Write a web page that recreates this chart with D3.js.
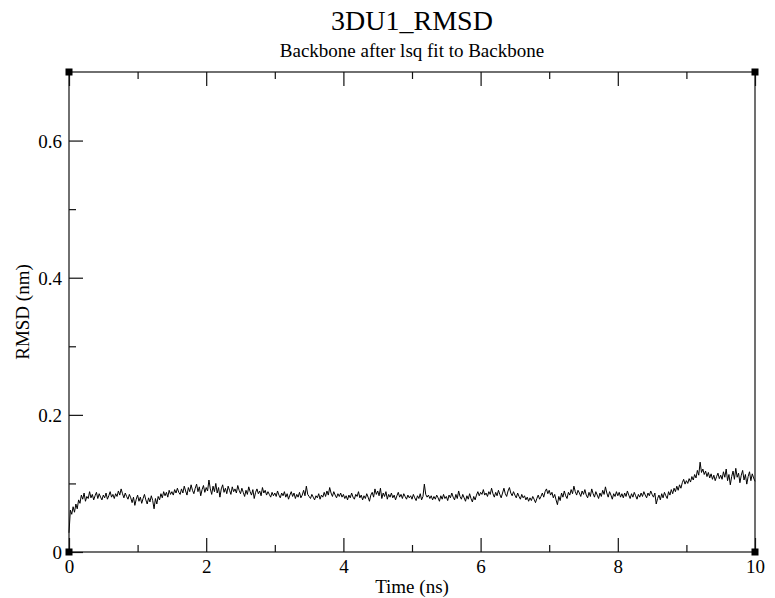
<!DOCTYPE html>
<html>
<head>
<meta charset="utf-8">
<script src="https://cdn.jsdelivr.net/npm/d3@7/dist/d3.min.js"></script>
<style>
  body { margin: 0; background: #fff; }
  text { font-family: "Liberation Serif", "DejaVu Serif", serif; fill: #000; }
</style>
</head>
<body>
<svg id="chart" width="775" height="598"></svg>
<script>
"use strict";

// chart texts
const title = "3DU1_RMSD";
const subtitle = "Backbone after lsq fit to Backbone";
const xLabel = "Time (ns)";
const yLabel = "RMSD (nm)";

// axes
const xDomain = [0, 10];
const yDomain = [0, 0.7];
const xMajorTicks = [0, 2, 4, 6, 8, 10];
const xMinorTicks = [1, 3, 5, 7, 9];
const yMajorTicks = [0, 0.2, 0.4, 0.6];
const yMinorTicks = [0.1, 0.3, 0.5];

// sampling of the trajectory, ns
const timeStep = 0.02;

// RMSD values (nm), one every 0.02 ns
const rmsd = [
  0.028, 0.061, 0.055, 0.066, 0.058, 0.070, 0.063, 0.076, 0.071, 0.083, 0.077, 0.086, 0.074, 0.081, 0.078, 0.088, 0.079, 0.084, 0.076, 0.082, 0.087, 0.078, 0.085, 0.080, 0.076,
  0.083, 0.079, 0.086, 0.077, 0.082, 0.088, 0.080, 0.084, 0.078, 0.085, 0.081, 0.089, 0.083, 0.092, 0.085, 0.079, 0.086, 0.081, 0.077, 0.084, 0.079, 0.072, 0.080, 0.068, 0.077,
  0.083, 0.074, 0.080, 0.071, 0.078, 0.084, 0.076, 0.070, 0.079, 0.073, 0.082, 0.075, 0.063, 0.078, 0.070, 0.081, 0.076, 0.085, 0.079, 0.088, 0.082, 0.087, 0.080, 0.090, 0.084,
  0.088, 0.083, 0.091, 0.086, 0.093, 0.087, 0.084, 0.092, 0.086, 0.096, 0.089, 0.083, 0.094, 0.088, 0.098, 0.090, 0.085, 0.093, 0.099, 0.088, 0.095, 0.082, 0.091, 0.097, 0.087,
  0.094, 0.089, 0.105, 0.092, 0.084, 0.096, 0.088, 0.100, 0.086, 0.094, 0.080, 0.092, 0.098, 0.087, 0.093, 0.085, 0.096, 0.090, 0.084, 0.095, 0.088, 0.092, 0.086, 0.097, 0.090,
  0.085, 0.093, 0.087, 0.081, 0.090, 0.084, 0.095, 0.088, 0.083, 0.091, 0.078, 0.087, 0.092, 0.085, 0.089, 0.082, 0.094, 0.086, 0.090, 0.083, 0.088, 0.084, 0.080, 0.087, 0.082,
  0.086, 0.081, 0.089, 0.083, 0.079, 0.086, 0.082, 0.088, 0.080, 0.085, 0.077, 0.083, 0.088, 0.081, 0.086, 0.078, 0.084, 0.080, 0.087, 0.079, 0.083, 0.090, 0.082, 0.096, 0.084,
  0.081, 0.078, 0.084, 0.080, 0.076, 0.082, 0.079, 0.085, 0.077, 0.083, 0.080, 0.087, 0.081, 0.089, 0.083, 0.094, 0.086, 0.081, 0.088, 0.083, 0.079, 0.085, 0.081, 0.086, 0.080,
  0.084, 0.078, 0.082, 0.076, 0.083, 0.079, 0.086, 0.080, 0.077, 0.084, 0.081, 0.088, 0.079, 0.083, 0.076, 0.082, 0.078, 0.085, 0.080, 0.074, 0.083, 0.087, 0.080, 0.092, 0.084,
  0.089, 0.082, 0.093, 0.078, 0.086, 0.081, 0.088, 0.077, 0.084, 0.080, 0.086, 0.079, 0.083, 0.076, 0.082, 0.087, 0.080, 0.084, 0.078, 0.085, 0.081, 0.077, 0.083, 0.079, 0.082,
  0.077, 0.084, 0.079, 0.075, 0.082, 0.078, 0.085, 0.076, 0.081, 0.099, 0.084, 0.080, 0.083, 0.078, 0.082, 0.076, 0.081, 0.077, 0.083, 0.079, 0.074, 0.082, 0.077, 0.084, 0.078,
  0.081, 0.075, 0.083, 0.079, 0.086, 0.080, 0.076, 0.084, 0.078, 0.089, 0.081, 0.077, 0.084, 0.079, 0.074, 0.082, 0.077, 0.085, 0.078, 0.073, 0.081, 0.076, 0.083, 0.088, 0.082,
  0.087, 0.084, 0.091, 0.083, 0.086, 0.081, 0.088, 0.084, 0.093, 0.085, 0.080, 0.087, 0.082, 0.090, 0.084, 0.079, 0.086, 0.093, 0.085, 0.081, 0.089, 0.094, 0.086, 0.082, 0.088,
  0.083, 0.079, 0.086, 0.081, 0.077, 0.084, 0.079, 0.082, 0.076, 0.080, 0.074, 0.079, 0.075, 0.081, 0.077, 0.072, 0.078, 0.083, 0.077, 0.081, 0.086, 0.080, 0.088, 0.092, 0.085,
  0.090, 0.083, 0.087, 0.079, 0.084, 0.076, 0.069, 0.081, 0.075, 0.086, 0.080, 0.089, 0.082, 0.078, 0.087, 0.083, 0.091, 0.085, 0.096, 0.088, 0.083, 0.090, 0.086, 0.081, 0.089,
  0.084, 0.091, 0.083, 0.079, 0.087, 0.081, 0.092, 0.085, 0.080, 0.088, 0.083, 0.078, 0.086, 0.081, 0.090, 0.084, 0.095, 0.086, 0.080, 0.088, 0.083, 0.077, 0.085, 0.081, 0.088,
  0.082, 0.087, 0.080, 0.085, 0.079, 0.086, 0.081, 0.089, 0.083, 0.078, 0.085, 0.080, 0.087, 0.082, 0.077, 0.084, 0.080, 0.086, 0.081, 0.088, 0.083, 0.079, 0.086, 0.082, 0.089,
  0.084, 0.080, 0.086, 0.070, 0.078, 0.083, 0.076, 0.085, 0.079, 0.087, 0.082, 0.078, 0.088, 0.083, 0.091, 0.085, 0.093, 0.088, 0.096, 0.090, 0.098, 0.093, 0.101, 0.106, 0.099,
  0.104, 0.100, 0.107, 0.102, 0.110, 0.105, 0.113, 0.108, 0.119, 0.112, 0.131, 0.116, 0.121, 0.113, 0.118, 0.110, 0.116, 0.108, 0.114, 0.106, 0.112, 0.104, 0.110, 0.115, 0.107,
  0.112, 0.106, 0.117, 0.109, 0.121, 0.104, 0.113, 0.098, 0.110, 0.118, 0.106, 0.122, 0.109, 0.115, 0.101, 0.112, 0.119, 0.105, 0.113, 0.099, 0.110, 0.117, 0.104, 0.114, 0.108,
  0.103
];

let plotLeft = 69, plotRight = 755, plotTop = 72, plotBottom = 552;
let fontSize = 19;

let svg = d3.select("#chart");

let x = d3.scaleLinear().domain(xDomain).range([plotLeft, plotRight]);
let y = d3.scaleLinear().domain(yDomain).range([plotBottom, plotTop]);

// data line
let line = d3.line()
             .x((d, i) => x(i * timeStep))
             .y((d) => y(d));

svg.append("path")
   .datum(rmsd)
   .attr("fill", "none")
   .attr("stroke", "#000")
   .attr("stroke-width", 1)
   .attr("d", line);

// frame
svg.append("rect")
   .attr("x", plotLeft)
   .attr("y", plotTop)
   .attr("width", plotRight - plotLeft)
   .attr("height", plotBottom - plotTop)
   .attr("fill", "none")
   .attr("stroke", "#111")
   .attr("stroke-width", 1.2);

// axes with inward ticks
function drawAxis(axis, transform, withLabels)
{
    let g = svg.append("g")
               .attr("transform", transform)
               .call(axis);
    g.select(".domain").remove();
    g.selectAll("line").attr("stroke", "#111").attr("stroke-width", 1.2);
    g.selectAll("text")
     .style("font-family", "Liberation Serif, serif")
     .style("font-size", fontSize + "px")
     .attr("fill", "#000");
    if (!withLabels)
        g.selectAll("text").remove();
    return g;
}

let fmt = (d) => String(+d.toFixed(1));

// bottom
drawAxis(d3.axisTop(x).tickValues(xMajorTicks).tickSize(14).tickFormat(""),
         "translate(0," + plotBottom + ")", false);
drawAxis(d3.axisTop(x).tickValues(xMinorTicks).tickSize(7).tickFormat(""),
         "translate(0," + plotBottom + ")", false);
// top
drawAxis(d3.axisBottom(x).tickValues(xMajorTicks).tickSize(14).tickFormat(""),
         "translate(0," + plotTop + ")", false);
drawAxis(d3.axisBottom(x).tickValues(xMinorTicks).tickSize(7).tickFormat(""),
         "translate(0," + plotTop + ")", false);
// left
drawAxis(d3.axisRight(y).tickValues(yMajorTicks).tickSize(14).tickFormat(""),
         "translate(" + plotLeft + ",0)", false);
drawAxis(d3.axisRight(y).tickValues(yMinorTicks).tickSize(7).tickFormat(""),
         "translate(" + plotLeft + ",0)", false);

// tick labels
let xl = drawAxis(d3.axisBottom(x).tickValues(xMajorTicks).tickSize(0).tickPadding(5).tickFormat(fmt),
                  "translate(0," + plotBottom + ")", true);
xl.selectAll("text").attr("dy", "0.82em");

let yl = drawAxis(d3.axisLeft(y).tickValues(yMajorTicks).tickSize(0).tickPadding(7).tickFormat(fmt),
                  "translate(" + plotLeft + ",0)", true);
yl.selectAll("text").attr("dy", "0.34em");

// corner markers
let corners = [[xDomain[0], yDomain[0]], [xDomain[1], yDomain[0]], [xDomain[0], yDomain[1]], [xDomain[1], yDomain[1]]];
svg.selectAll(".corner")
   .data(corners)
   .enter()
   .append("rect")
   .attr("class", "corner")
   .attr("x", (d) => x(d[0]) - 3.5)
   .attr("y", (d) => y(d[1]) - 3.5)
   .attr("width", 7)
   .attr("height", 7)
   .attr("fill", "#000");

// titles
let mid = (plotLeft + plotRight) / 2;
svg.append("text")
   .attr("x", mid)
   .attr("y", 30)
   .attr("text-anchor", "middle")
   .style("font-size", "28px")
   .text(title);

svg.append("text")
   .attr("x", mid)
   .attr("y", 57)
   .attr("text-anchor", "middle")
   .style("font-size", fontSize + "px")
   .text(subtitle);

svg.append("text")
   .attr("x", mid)
   .attr("y", 593)
   .attr("text-anchor", "middle")
   .style("font-size", fontSize + "px")
   .text(xLabel);

svg.append("text")
   .attr("transform", "translate(29," + ((plotTop + plotBottom) / 2) + ") rotate(-90)")
   .attr("text-anchor", "middle")
   .style("font-size", fontSize + "px")
   .text(yLabel);
</script>
</body>
</html>
